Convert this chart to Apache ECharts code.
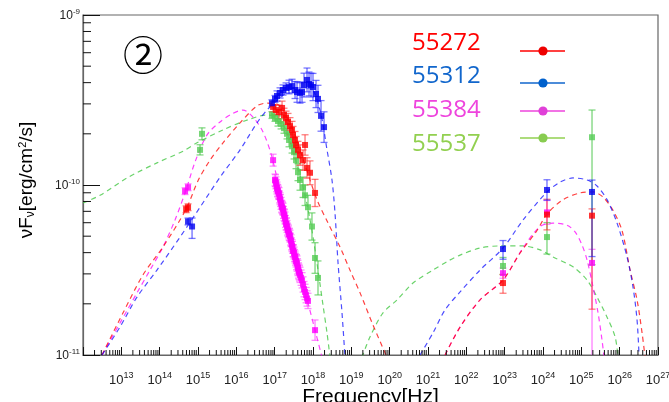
<!DOCTYPE html>
<html><head><meta charset="utf-8">
<script src="https://cdn.jsdelivr.net/npm/echarts@6/dist/echarts.min.js"></script>
<style>html,body{margin:0;padding:0;background:#fff}#c{width:669px;height:402px}</style>
</head><body><div id="c"></div>
<script>
// ---------- axis definitions ----------
const xMinExp = 12, xMaxExp = 27;
const yMinExp = -11, yMaxExp = -9;
const minorMult = [2,3,4,5,6,7,8,9];
const legendNames = ['55272','55312','55384','55537'];

// ---------- 55272 (red) data points ----------
const redNu = [4.9e14,5.5e14, 9.1e16,1.08e17,1.30e17,1.56e17,1.75e17,1.98e17,2.23e17,2.51e17,2.84e17,3.01e17,3.40e17,3.61e17,4.06e17,4.58e17,5.5e17,6.2e17,6.98e17,8.35e17,1.13e18, 9.06e22,1.27e24,1.9e25];
const redF  = [7.2e-11,7.4e-11, 2.88e-10,2.76e-10,2.69e-10,2.84e-10,2.58e-10,2.48e-10,2.35e-10,2.22e-10,2.11e-10,1.97e-10,1.84e-10,1.72e-10,1.61e-10,1.50e-10,1.40e-10,1.72e-10,1.26e-10,1.18e-10,8.98e-11, 2.65e-11,6.7e-11,6.6e-11];
const redErrLo = [0.02,0.02, 0.03,0.03,0.04,0.04,0.04,0.04,0.05,0.05,0.05,0.05,0.05,0.05,0.05,0.06,0.06,0.06,0.06,0.07,0.08, 0.06,0.09,0.55];
const redErrHi = [0.02,0.02, 0.03,0.03,0.04,0.04,0.04,0.04,0.05,0.05,0.05,0.05,0.05,0.05,0.05,0.06,0.06,0.06,0.06,0.07,0.08, 0.05,0.09,0.04];
// ---------- 55312 (blue) data points ----------
const blueNu = [5.5e14,7.0e14, 8.5e16,1.02e17,1.15e17,1.38e17,1.65e17,1.98e17,2.37e17,2.84e17,3.40e17,3.83e17,4.58e17,5.18e17,5.83e17,6.98e17,7.87e17,8.87e17,1.0e18,1.2e18,1.35e18,1.62e18,1.94e18, 9.06e22,1.27e24,1.9e25];
const blueF  = [6.1e-11,5.7e-11, 3.03e-10,3.21e-10,3.34e-10,3.48e-10,3.62e-10,3.72e-10,3.77e-10,3.82e-10,3.62e-10,3.52e-10,3.48e-10,3.52e-10,3.87e-10,4.15e-10,3.93e-10,3.87e-10,3.77e-10,3.43e-10,3.21e-10,2.55e-10,2.19e-10, 4.2e-11,9.35e-11,9.1e-11];
const blueErrLo = [0.02,0.07, 0.02,0.02,0.03,0.03,0.03,0.03,0.04,0.04,0.05,0.06,0.06,0.06,0.07,0.07,0.07,0.07,0.08,0.08,0.08,0.09,0.09, 0.06,0.06,0.38];
const blueErrHi = [0.02,0.05, 0.02,0.02,0.03,0.03,0.03,0.03,0.04,0.04,0.05,0.06,0.06,0.06,0.07,0.07,0.07,0.07,0.08,0.08,0.08,0.09,0.09, 0.05,0.06,0.07];
// ---------- 55384 (magenta) data points ----------
const magNu = [4.6e14,5.5e14, 9.1e16,1.02e17,1.05e17,1.08e17,1.12e17,1.15e17,1.19e17,1.22e17,1.26e17,1.30e17,1.34e17,1.38e17,1.42e17,1.47e17,1.52e17,1.56e17,1.61e17,1.65e17,1.70e17,1.75e17,1.81e17,1.86e17,1.92e17,1.98e17,2.04e17,2.10e17,2.17e17,2.23e17,2.30e17,2.37e17,2.44e17,2.51e17,2.59e17,2.67e17,2.75e17,2.84e17,2.92e17,3.01e17,3.10e17,3.20e17,3.30e17,3.40e17,3.50e17,3.61e17,3.72e17,3.83e17,3.95e17,4.06e17,4.19e17,4.32e17,4.45e17,4.58e17,4.88e17,5.18e17,5.5e17,5.83e17,6.2e17,6.6e17,7.0e17,7.4e17,1.13e18, 9.06e22,1.27e24,1.9e25];
const magF  = [9.2e-11,9.7e-11, 1.40e-10,1.07e-10,1.06e-10,1.03e-10,9.9e-11,9.6e-11,9.3e-11,9.2e-11,9.0e-11,8.9e-11,8.5e-11,8.3e-11,8.1e-11,7.8e-11,7.5e-11,7.4e-11,7.3e-11,7.2e-11,6.9e-11,6.7e-11,6.6e-11,6.4e-11,6.1e-11,5.9e-11,5.9e-11,5.7e-11,5.5e-11,5.4e-11,5.3e-11,5.15e-11,5.1e-11,5.0e-11,4.8e-11,4.7e-11,4.5e-11,4.4e-11,4.3e-11,4.1e-11,4.1e-11,3.98e-11,3.85e-11,3.77e-11,3.66e-11,3.57e-11,3.52e-11,3.45e-11,3.32e-11,3.25e-11,3.14e-11,3.08e-11,3.02e-11,2.96e-11,2.85e-11,2.75e-11,2.6e-11,2.44e-11,2.35e-11,2.25e-11,2.15e-11,2.08e-11,1.40e-11, 3.03e-11,6.9e-11,3.48e-11];
const magErrLo = magNu.map((v,i)=> i<2 ? 0.02 : (i===62 ? 0.06 : (i===63 ? 0.03 : (i===64 ? 0.07 : (i===65 ? 1.2 : (i>45 ? 0.045 : 0.035))))));
const magErrHi = magNu.map((v,i)=> i<2 ? 0.02 : (i===62 ? 0.06 : (i===63 ? 0.03 : (i===64 ? 0.07 : (i===65 ? 0.08 : (i>45 ? 0.045 : 0.035))))));
// ---------- 55537 (green) data points ----------
const grnNu = [1.13e15,1.27e15, 8.5e16,1.02e17,1.22e17,1.47e17,1.75e17,2.10e17,2.37e17,2.84e17,3.20e17,3.61e17,4.06e17,4.58e17,5.5e17,6.2e17,7.4e17,9.4e17,1.13e18,1.35e18, 9.06e22,1.27e24,1.9e25];
const grnF  = [1.61e-10,2.0e-10, 2.58e-10,2.48e-10,2.38e-10,2.29e-10,2.16e-10,2.0e-10,1.84e-10,1.69e-10,1.56e-10,1.40e-10,1.19e-10,1.07e-10,9.7e-11,8.7e-11,7.4e-11,5.7e-11,3.72e-11,2.84e-11, 3.34e-11,4.94e-11,1.91e-10];
const grnErrLo = [0.03,0.035, 0.02,0.02,0.03,0.03,0.03,0.03,0.04,0.04,0.04,0.05,0.05,0.06,0.06,0.06,0.07,0.08,0.09,0.10, 0.05,0.10,0.75];
const grnErrHi = [0.03,0.035, 0.02,0.02,0.03,0.03,0.03,0.03,0.04,0.04,0.04,0.05,0.05,0.06,0.06,0.06,0.07,0.08,0.09,0.10, 0.05,0.085,0.16];

// ---------- model curves (synchrotron + inverse Compton) ----------
const redSynNu = [3.13e12,1.11e13,3.67e13,1.22e14,4.87e14,1.0e15,2.06e15,4.49e15,1.25e16,3.47e16,6.3e16,1.15e17,1.86e17,3.40e17,6.2e17,1.27e18,2.47e18,5.07e18,9.2e18,1.69e19,3.68e19,8.5e19];
const redSynF  = [1e-11,1.77e-11,2.96e-11,4.32e-11,7.2e-11,1.06e-10,1.40e-10,1.77e-10,2.32e-10,2.92e-10,3.03e-10,2.99e-10,2.65e-10,1.97e-10,1.31e-10,8.2e-11,5.97e-11,4.32e-11,3.16e-11,2.32e-11,1.5e-11,9.7e-12];
const redIcNu = [2.78e21,6.86e21,2.28e22,9.06e22,2.52e23,6.98e23,1.27e24,3.33e24,9.25e24,2.02e25,3.68e25,6.7e25,1.15e26,1.87e26,2.84e26,3.84e26,4.6e26];
const redIcF  = [1e-11,1.46e-11,2.11e-11,2.76e-11,3.98e-11,5.4e-11,6.75e-11,8.2e-11,8.98e-11,9.1e-11,8.5e-11,7.1e-11,5.4e-11,3.16e-11,2.11e-11,1.35e-11,9.7e-12];
const blueSynNu = [3.13e12,9.2e12,2.56e13,8.5e13,3.40e14,1.13e15,3.75e15,1.25e16,3.47e16,6.3e16,1.38e17,3.40e17,8.35e17,1.52e18,2.32e18,3.13e18,3.75e18,4.50e18,5.71e18,6.84e18];
const blueSynF  = [1e-11,1.46e-11,2.19e-11,3.16e-11,4.94e-11,7.4e-11,1.11e-10,1.61e-10,2.32e-10,2.76e-10,3.25e-10,3.72e-10,3.72e-10,2.76e-10,1.61e-10,1.07e-10,6.84e-11,3.48e-11,1.77e-11,9.7e-12];
const blueIcNu = [6.2e20,1.35e21,2.78e21,6.86e21,2.28e22,9.06e22,3.01e23,1.27e24,2.79e24,6.08e24,1.41e25,2.57e25,4.69e25,8.55e25,1.56e26,2.23e26,2.84e26,3.2e26];
const blueIcF  = [1e-11,1.35e-11,1.84e-11,2.35e-11,3.16e-11,4.26e-11,6.22e-11,9.1e-11,1.04e-10,1.10e-10,1.07e-10,9.86e-11,8.2e-11,5.97e-11,3.77e-11,2.51e-11,1.61e-11,1e-11];
const magSynNu = [3.13e12,9.2e12,2.56e13,5.6e13,1.22e14,2.51e14,4.87e14,8.4e14,1.72e15,3.75e15,7.7e15,1.49e16,2.72e16,4.97e16,8.5e16,1.86e17,4.06e17,7.4e17,1.13e18,1.72e18];
const magSynF  = [1e-11,1.54e-11,2.32e-11,3.16e-11,4.32e-11,6.22e-11,9.35e-11,1.37e-10,1.97e-10,2.35e-10,2.62e-10,2.76e-10,2.51e-10,2.05e-10,1.46e-10,6.67e-11,3.16e-11,2.02e-11,1.40e-11,9.7e-12];
const magIcNu = [2.78e21,6.86e21,2.28e22,9.06e22,3.01e23,8.4e23,1.83e24,4.24e24,6.86e24,1.04e25,1.41e25,2.02e25,2.73e25,3.47e25,3.91e25];
const magIcF  = [1e-11,1.46e-11,2.11e-11,2.76e-11,4.26e-11,5.7e-11,5.97e-11,5.8e-11,5.3e-11,4.44e-11,3.62e-11,2.51e-11,1.77e-11,1.22e-11,9.7e-12];
const grnSynNu = [1e12,2.78e12,1.41e13,8.5e13,4.06e14,9.4e14,4.49e15,1.90e16,6.3e16,1.15e17,1.86e17,3.40e17,6.2e17,9.4e17,1.35e18,1.82e18,2.32e18,2.78e18];
const grnSynF  = [7.83e-11,8.7e-11,1.10e-10,1.35e-10,1.58e-10,1.77e-10,2.11e-10,2.41e-10,2.58e-10,2.51e-10,2.16e-10,1.44e-10,8.7e-11,5.4e-11,3.16e-11,1.97e-11,1.35e-11,9.7e-12];
const grnIcNu = [1.9e19,3.08e19,6.7e19,1.56e20,4.06e20,1.35e21,3.33e21,6.86e21,2.28e22,7.57e22,3.01e23,8.4e23,1.83e24,6.08e24,1.41e25,2.57e25,4.69e25,7.6e25,9.1e25];
const grnIcF  = [9.7e-12,1.28e-11,1.77e-11,2.11e-11,2.65e-11,3.16e-11,3.57e-11,3.87e-11,4.26e-11,4.38e-11,4.38e-11,4.15e-11,3.77e-11,3.30e-11,2.76e-11,2.19e-11,1.67e-11,1.28e-11,9.7e-12];

// ---------- styling ----------
const C = {
  red:  {pt:'#ff0000', line:'rgba(255,0,0,0.75)', err:'rgba(255,40,40,0.6)', leg:'#ff0000', legDot:'#ee0000'},
  blue: {pt:'#0000f0', line:'rgba(0,0,255,0.7)', err:'rgba(30,30,255,0.6)', leg:'#1166cc', legDot:'#0060cc'},
  mag:  {pt:'#ff00ff', line:'rgba(255,0,255,0.75)', err:'rgba(255,60,255,0.6)', leg:'#ee44dd', legDot:'#e040d8'},
  grn:  {pt:'#55cc55', line:'rgba(70,200,70,0.8)', err:'rgba(80,200,80,0.7)', leg:'#92d050', legDot:'#88cc50'}
};
const FONT = 'Liberation Sans, Arial, sans-serif';

function zip(a,b){ return a.map((v,i)=>[v,b[i]]); }
function errData(nu,f,lo,hi){ return nu.map((v,i)=>[v, f[i], f[i]*Math.pow(10,-lo[i]), f[i]*Math.pow(10,hi[i])]); }

function errRender(color){
  return function(params, api){
    const p = api.coord([api.value(0), api.value(1)]);
    const pl = api.coord([api.value(0), api.value(2)]);
    const ph = api.coord([api.value(0), api.value(3)]);
    const cs = params.coordSys;
    const bot = cs.y + cs.height, top = cs.y;
    const yl = Math.min(pl[1], bot), yh = Math.max(ph[1], top);
    const ch = [{type:'line', shape:{x1:p[0],y1:yl,x2:p[0],y2:yh}, style:{stroke:color, lineWidth:1.4}}];
    if (pl[1] < bot) ch.push({type:'line', shape:{x1:p[0]-3.5,y1:pl[1],x2:p[0]+3.5,y2:pl[1]}, style:{stroke:color, lineWidth:1.3}});
    if (ph[1] > top) ch.push({type:'line', shape:{x1:p[0]-3.5,y1:ph[1],x2:p[0]+3.5,y2:ph[1]}, style:{stroke:color, lineWidth:1.3}});
    return {type:'group', children:ch};
  };
}

const series = [];
function addCurve(nu,f,col){
  series.push({type:'line', data:zip(nu,f), showSymbol:false, smooth:0.3, clip:true, silent:true,
    lineStyle:{color:col, width:1.2, type:[5,4]}, z:2});
}
addCurve(grnSynNu,grnSynF,C.grn.line); addCurve(grnIcNu,grnIcF,C.grn.line);
addCurve(magSynNu,magSynF,C.mag.line); addCurve(magIcNu,magIcF,C.mag.line);
addCurve(redSynNu,redSynF,C.red.line); addCurve(redIcNu,redIcF,C.red.line);
addCurve(blueSynNu,blueSynF,C.blue.line); addCurve(blueIcNu,blueIcF,C.blue.line);

function addPoints(nu,f,lo,hi,c){
  series.push({type:'custom', data:errData(nu,f,lo,hi), renderItem:errRender(c.err), silent:true, z:3});
  series.push({type:'scatter', data:zip(nu,f), symbol:'rect', symbolSize:6, itemStyle:{color:c.pt}, silent:true, z:4});
}
addPoints(magNu,magF,magErrLo,magErrHi,C.mag);
addPoints(grnNu,grnF,grnErrLo,grnErrHi,C.grn);
addPoints(redNu,redF,redErrLo,redErrHi,C.red);
addPoints(blueNu,blueF,blueErrLo,blueErrHi,C.blue);

// minor ticks drawn through the axes' own scales
const xMinor = [], yMinor = [];
for (let n = xMinExp; n < xMaxExp; n++) minorMult.forEach(k => xMinor.push([k*Math.pow(10,n), Math.pow(10,yMinExp)]));
for (let n = yMinExp; n < yMaxExp; n++) minorMult.forEach(k => yMinor.push([Math.pow(10,xMinExp), k*Math.pow(10,n)]));
series.push({type:'custom', data:xMinor, silent:true, z:5, renderItem:(p,api)=>{
  const c = api.coord([api.value(0), api.value(1)]);
  return {type:'line', shape:{x1:c[0],y1:c[1],x2:c[0],y2:c[1]-5}, style:{stroke:'#111', lineWidth:1}};
}});
series.push({type:'custom', data:yMinor, silent:true, z:5, renderItem:(p,api)=>{
  const c = api.coord([api.value(0), api.value(1)]);
  return {type:'line', shape:{x1:c[0],y1:c[1],x2:c[0]+8,y2:c[1]}, style:{stroke:'#111', lineWidth:1}};
}});

function expLabel(v){
  const n = Math.round(Math.log10(v));
  return '{b|10}{s|' + n + '}';
}

const legendY = [43, 76, 110, 144];
const legendDotY = [51, 83, 111, 138];
const legCols = [C.red, C.blue, C.mag, C.grn];
const graphic = [
  {type:'text', x:143, y:55, style:{text:'②', font:'40px "Noto Sans CJK JP"', fill:'#000', align:'center', verticalAlign:'middle'}}
];
legendNames.forEach((name,i)=>{
  graphic.push({type:'text', x:412, y:legendY[i], style:{text:name, font:'24px "Open Sans"', fill:legCols[i].leg, verticalAlign:'middle'}});
  graphic.push({type:'line', shape:{x1:520,y1:legendDotY[i],x2:565,y2:legendDotY[i]}, style:{stroke:legCols[i].leg, lineWidth:1.6}});
  graphic.push({type:'circle', shape:{cx:543, cy:legendDotY[i], r:4.6}, style:{fill:legCols[i].legDot}});
});

const chart = echarts.init(document.getElementById('c'), null, {renderer:'canvas'});
chart.setOption({
  animation:false,
  backgroundColor:'#fff',
  grid:{left:83, right:11, top:15, bottom:47, show:true, borderColor:'#666', borderWidth:1.2,
        containLabel:false, outerBoundsMode:'none'},
  xAxis:{type:'log', logBase:10, min:Math.pow(10,xMinExp), max:Math.pow(10,xMaxExp), interval:1,
    splitLine:{show:false},
    axisLine:{lineStyle:{color:'#666', width:1.2}},
    axisTick:{inside:true, length:8, lineStyle:{color:'#111'}},
    axisLabel:{margin:16, formatter:v=> Math.round(Math.log10(v))===xMinExp ? '' : expLabel(v),
      rich:{b:{fontSize:13, fontFamily:FONT, color:'#222', lineHeight:16, verticalAlign:'bottom'},
            s:{fontSize:9, fontFamily:FONT, color:'#222', lineHeight:16, verticalAlign:'top', padding:[0,0,6,0]}}},
    name:'Frequency[Hz]', nameLocation:'middle', nameGap:32, nameMoveOverlap:false,
    nameTextStyle:{fontSize:21, fontFamily:FONT, color:'#000'}
  },
  yAxis:{type:'log', logBase:10, min:Math.pow(10,yMinExp), max:Math.pow(10,yMaxExp), interval:1,
    splitLine:{show:false},
    axisLine:{lineStyle:{color:'#666', width:1.2}},
    axisTick:{inside:true, length:17, lineStyle:{color:'#111'}},
    axisLabel:{margin:3, formatter:expLabel,
      rich:{b:{fontSize:12, fontFamily:FONT, color:'#222', lineHeight:14, verticalAlign:'bottom'},
            s:{fontSize:8, fontFamily:FONT, color:'#222', lineHeight:14, verticalAlign:'top', padding:[0,0,5,0]}}},
    name:'{a|νF}{b|ν}{a|[erg/cm}{c|2}{a|/s]}', nameLocation:'middle', nameGap:46, nameRotate:90, nameMoveOverlap:false,
    nameTextStyle:{padding:[0,0,0,10], rich:{a:{fontSize:19, fontFamily:FONT, color:'#000'},
                         b:{fontSize:12, fontFamily:FONT, color:'#000', padding:[8,0,0,0]},
                         c:{fontSize:11, fontFamily:FONT, color:'#000', padding:[0,0,8,0]}}}
  },
  series:series,
  graphic:graphic
});
</script></body></html>
